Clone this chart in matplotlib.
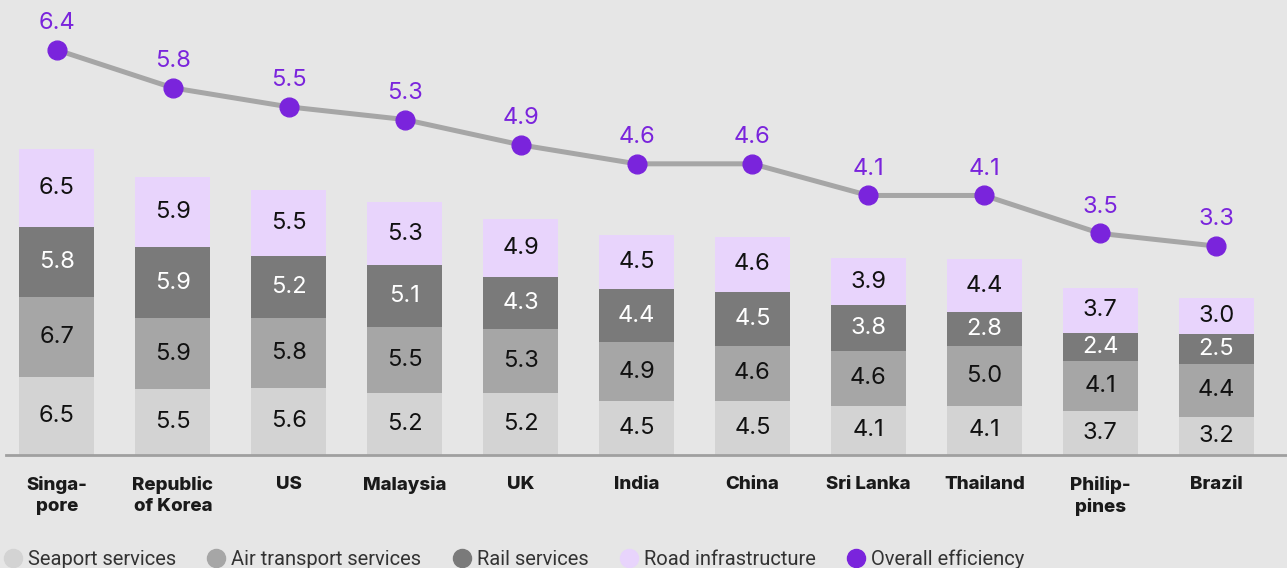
import matplotlib
matplotlib.use("Agg")
import numpy as np
import matplotlib.pyplot as plt
from matplotlib.lines import Line2D

plt.rcParams["font.family"] = ["Inter", "DejaVu Sans"]

countries = ["Singa-\npore", "Republic\nof Korea", "US", "Malaysia", "UK", "India",
             "China", "Sri Lanka", "Thailand", "Philip-\npines", "Brazil"]
seaport = [6.5, 5.5, 5.6, 5.2, 5.2, 4.5, 4.5, 4.1, 4.1, 3.7, 3.2]
air = [6.7, 5.9, 5.8, 5.5, 5.3, 4.9, 4.6, 4.6, 5.0, 4.1, 4.4]
rail = [5.8, 5.9, 5.2, 5.1, 4.3, 4.4, 4.5, 3.8, 2.8, 2.4, 2.5]
road = [6.5, 5.9, 5.5, 5.3, 4.9, 4.5, 4.6, 3.9, 4.4, 3.7, 3.0]
overall = [6.4, 5.8, 5.5, 5.3, 4.9, 4.6, 4.6, 4.1, 4.1, 3.5, 3.3]

series = [
    ("Seaport services", seaport, "#D3D3D3", "#111111"),
    ("Air transport services", air, "#A6A6A6", "#111111"),
    ("Rail services", rail, "#7A7A7A", "#FFFFFF"),
    ("Road infrastructure", road, "#E8D4FC", "#111111"),
]
BG = "#E6E6E6"
PURPLE = "#7A24DC"

W, H = 1287, 568
fig = plt.figure(figsize=(W / 100, H / 100), dpi=100, facecolor=BG)
ax = fig.add_axes([0, 113 / H, 1, 455 / H])
ax.set_facecolor(BG)

x = np.arange(len(countries))
bottom = np.zeros(len(countries))
for name, vals, color, tcolor in series:
    vals = np.array(vals)
    ax.bar(x, vals, width=0.65, bottom=bottom, color=color, zorder=2)
    for xi, b, v in zip(x, bottom, vals):
        ax.text(xi, b + v / 2, f"{v:.1f}", ha="center", va="center",
                fontsize=17, color=tcolor, zorder=3)
    bottom += vals

ax.set_xlim(-0.49, 10.61)
ax.set_ylim(0, 455 / 12)

# overall efficiency on its own scale
ax2 = ax.twinx()
ax2.set_ylim(0, 455 / 63.3)
ax2.plot(x, overall, color="#A6A6A6", lw=3.6, zorder=2, solid_capstyle="round")
ax2.plot(x, overall, "o", color=PURPLE, ms=13.5, zorder=3)
for xi, v in zip(x, overall):
    ax2.annotate(f"{v:.1f}", (xi, v), xytext=(0, 15), textcoords="offset points",
                 ha="center", va="baseline", fontsize=17, color=PURPLE)
ax2.axis("off")

for s in ["top", "right", "left"]:
    ax.spines[s].set_visible(False)
ax.spines["bottom"].set_color("#A0A0A0")
ax.spines["bottom"].set_linewidth(2)
ax.spines["bottom"].set_bounds(-0.44, 10.61)
ax.set_yticks([])
ax.set_xticks(x)
ax.set_xticklabels(countries, fontsize=13.5, fontweight="heavy", color="#1A1A1A",
                   linespacing=1.3)
ax.tick_params(axis="x", length=0, pad=15)

handles = [Line2D([], [], ls="", marker="o", ms=13, color=c, label=n)
           for n, _, c, _ in series]
handles.append(Line2D([], [], ls="", marker="o", ms=13, color=PURPLE,
                      label="Overall efficiency"))
fig.legend(handles=handles, loc="lower left", bbox_to_anchor=(-0.012, -0.033),
           ncol=5, frameon=False, labelcolor="#333333",
           prop={"family": ["Roboto", "DejaVu Sans"], "size": 14.5},
           handletextpad=0.25, columnspacing=1.5, handlelength=1.0)

fig.savefig("out.png", dpi=100, facecolor=BG)
